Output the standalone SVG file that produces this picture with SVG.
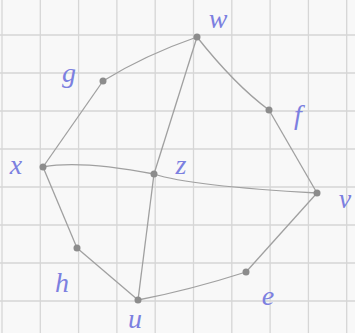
<svg xmlns="http://www.w3.org/2000/svg" width="355" height="333" viewBox="0 0 355 333">
<style>
.grid line{stroke:#d6d6d6;stroke-width:1.3}
.edge{fill:none;stroke:#a0a0a0;stroke-width:1.3}
.dot{fill:#8c8c8c}
.lbl{font-family:"Liberation Serif","DejaVu Serif",serif;font-style:italic;font-size:28px;fill:#7c80e0;text-anchor:middle}
</style>
<rect width="355" height="333" fill="#f8f8f8"/>
<g class="grid">
<line x1="2" y1="0" x2="2" y2="333"/><line x1="40.3" y1="0" x2="40.3" y2="333"/><line x1="78.6" y1="0" x2="78.6" y2="333"/><line x1="116.9" y1="0" x2="116.9" y2="333"/><line x1="155.2" y1="0" x2="155.2" y2="333"/><line x1="193.5" y1="0" x2="193.5" y2="333"/><line x1="231.8" y1="0" x2="231.8" y2="333"/><line x1="270.1" y1="0" x2="270.1" y2="333"/><line x1="308.4" y1="0" x2="308.4" y2="333"/><line x1="346.7" y1="0" x2="346.7" y2="333"/>
<line x1="0" y1="-3" x2="355" y2="-3"/><line x1="0" y1="35" x2="355" y2="35"/><line x1="0" y1="73" x2="355" y2="73"/><line x1="0" y1="111" x2="355" y2="111"/><line x1="0" y1="149" x2="355" y2="149"/><line x1="0" y1="187" x2="355" y2="187"/><line x1="0" y1="225" x2="355" y2="225"/><line x1="0" y1="263" x2="355" y2="263"/><line x1="0" y1="301" x2="355" y2="301"/>
</g>
<g id="connectors">
<path class="edge" d="M43,167 L103,81"/>
<path class="edge" d="M103,81 Q145,55 197,37"/>
<path class="edge" d="M197,37 Q235,85 269,110"/>
<path class="edge" d="M269,110 L317,193"/>
<path class="edge" d="M317,193 L246,272"/>
<path class="edge" d="M246,272 Q190,290 138,300"/>
<path class="edge" d="M138,300 L77,248"/>
<path class="edge" d="M77,248 L43,167"/>
<path class="edge" d="M43,167 Q80,160 154,174"/>
<path class="edge" d="M154,174 Q190,186 317,193"/>
<path class="edge" d="M197,37 L154,174"/>
<path class="edge" d="M154,174 L138,300"/>
</g>
<g id="node-w"><circle class="dot" cx="197" cy="37" r="3.5"/><text class="lbl" x="218" y="28">w</text></g>
<g id="node-g"><circle class="dot" cx="103" cy="81" r="3.5"/><text class="lbl" x="69" y="82">g</text></g>
<g id="node-f"><circle class="dot" cx="269" cy="110" r="3.5"/><text class="lbl" x="298" y="124">f</text></g>
<g id="node-x"><circle class="dot" cx="43" cy="167" r="3.5"/><text class="lbl" x="16" y="174">x</text></g>
<g id="node-z"><circle class="dot" cx="154" cy="174" r="3.5"/><text class="lbl" x="181" y="174">z</text></g>
<g id="node-v"><circle class="dot" cx="317" cy="193" r="3.5"/><text class="lbl" x="345" y="208">v</text></g>
<g id="node-h"><circle class="dot" cx="77" cy="248" r="3.5"/><text class="lbl" x="62" y="292">h</text></g>
<g id="node-u"><circle class="dot" cx="138" cy="300" r="3.5"/><text class="lbl" x="135" y="328">u</text></g>
<g id="node-e"><circle class="dot" cx="246" cy="272" r="3.5"/><text class="lbl" x="268" y="305">e</text></g>
</svg>
